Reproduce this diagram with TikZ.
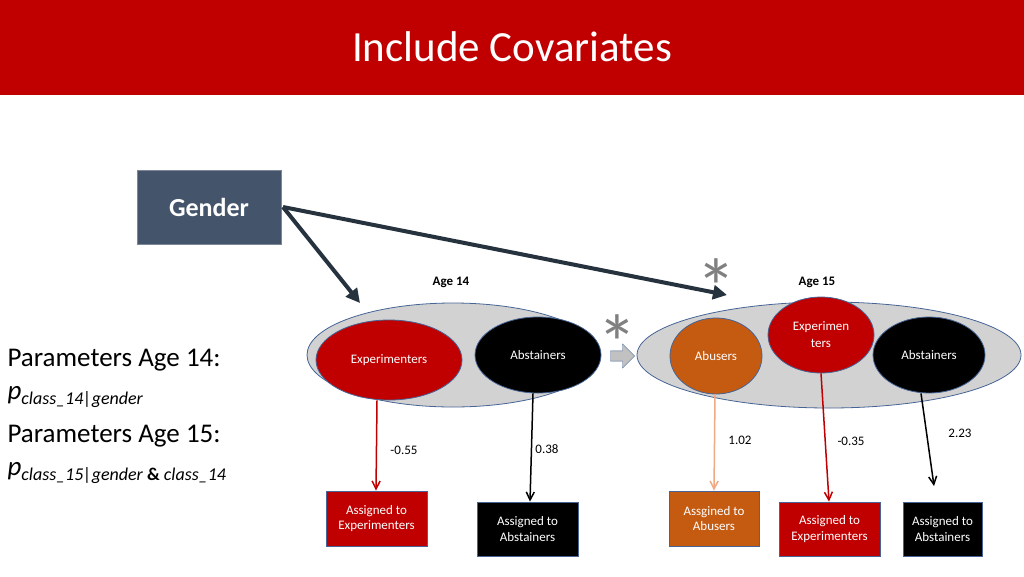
\documentclass[tikz,border=0pt]{standalone}
\usepackage{fontspec}
\setmainfont{Carlito}
\usetikzlibrary{arrows.meta,shapes.arrows,shapes.geometric}
\definecolor{hdr}{RGB}{192,0,0}
\definecolor{gbox}{RGB}{68,84,106}
\definecolor{darr}{RGB}{38,50,62}
\definecolor{cred}{RGB}{192,0,0}
\definecolor{corg}{RGB}{197,90,17}
\definecolor{peach}{RGB}{240,170,130}
\definecolor{lgray}{RGB}{210,210,210}
\definecolor{edgeb}{RGB}{70,100,150}
\tikzset{
  cls/.style={ellipse,draw=edgeb,thick,text=white,font=\fontsize{13}{15}\selectfont,inner sep=0pt,align=center},
  abox/.style={rectangle,draw=edgeb,thick,text=white,font=\fontsize{13}{15.5}\selectfont,align=center,inner sep=0pt},
  con/.style={-{Straight Barb[length=8pt,width=8pt]},line width=1.5pt},
  big/.style={-{Triangle[length=14pt,width=14pt]},line width=4pt,draw=darr},
  val/.style={font=\fontsize{13}{15}\selectfont},
  star/.style={text=gray,font=\fontsize{80}{80}\selectfont},
  lbl/.style={font=\fontsize{27}{30}\selectfont,anchor=west}
}
\begin{document}
\begin{tikzpicture}[x=1pt,y=-1pt]
\useasboundingbox (0,0) rectangle (1024,576);
\fill[hdr] (0,0) rectangle (1024,95);
\node[text=white,font=\fontsize{43}{45}\selectfont] (title) at (512,47) {Include Covariates};
\node[rectangle,draw=gbox!70,fill=gbox,thick,minimum width=144pt,minimum height=74pt,text=white,font=\fontsize{26}{28}\bfseries] (gender) at (209,207) {Gender};
\node[ellipse,draw=edgeb,thick,fill=lgray,minimum width=292pt,minimum height=104pt] (e14) at (453,355) {};
\node[ellipse,draw=edgeb,thick,fill=lgray,minimum width=384pt,minimum height=106pt] (e15) at (829,355) {};
\node[cls,fill=cred,minimum width=146pt,minimum height=80pt] (x14) at (389,360) {Experimenters};
\node[cls,fill=black,minimum width=126pt,minimum height=76pt] (a14) at (538,355) {Abstainers};
\node[cls,fill=corg,minimum width=92pt,minimum height=76pt] (u15) at (716,356) {Abusers};
\node[cls,fill=cred,minimum width=106pt,minimum height=76pt] (x15) at (821,335) {Experimen\\[2pt]ters};
\node[cls,fill=black,minimum width=112pt,minimum height=76pt] (a15) at (929,355) {Abstainers};
\node[single arrow,draw=edgeb,fill=lgray!80!gray,minimum height=24pt,minimum width=24pt,single arrow head extend=3pt,inner sep=2pt] (blk) at (620,356) {};
\node[font=\fontsize{13}{15}\bfseries] (age14) at (451,282) {Age 14};
\node[font=\fontsize{13}{15}\bfseries] (age15) at (817,282) {Age 15};
\node[star] (s1) at (716,287) {*};
\node[star] (s2) at (617,343) {*};
\coordinate (g0) at (283,207);
\coordinate (t14) at (360,303);
\coordinate (t15) at (727,295);
\draw[big] (g0) -- (t14);
\draw[big] (g0) -- (t15);
\node[abox,fill=cred,minimum width=101pt,minimum height=55pt] (b1) at (376.5,518.5) {Assigned to\\Experimenters};
\node[abox,fill=black,minimum width=101pt,minimum height=54pt] (b2) at (527.5,529) {Assigned to\\Abstainers};
\node[abox,fill=corg,minimum width=90pt,minimum height=55pt] (b3) at (714,518.5) {Assgined to\\Abusers};
\node[abox,fill=cred,minimum width=101pt,minimum height=54pt] (b4) at (829.5,529) {Assigned to\\Experimenters};
\node[abox,fill=black,minimum width=79pt,minimum height=54pt] (b5) at (942.5,529) {Assigned to\\Abstainers};
\draw[con,draw=cred] (x14.south -| 377,0) -- (b1.north -| 376,0);
\draw[con,draw=black] (a14.south -| 533,0) -- (b2.north -| 530,0);
\draw[con,draw=peach] (u15.south -| 715,0) -- (b3.north -| 714,0);
\draw[con,draw=cred] (x15.south -| 821,0) -- (b4.north -| 829,0);
\coordinate (end5) at (934,486);
\draw[con,draw=black] (a15.south -| 921,0) -- (end5);
\node[val] (v1) at (404,450) {-0.55};
\node[val] (v2) at (547,449) {0.38};
\node[val] (v3) at (740,440) {1.02};
\node[val] (v4) at (851,441) {-0.35};
\node[val] (v5) at (960,433) {2.23};
\node[lbl] (p1) at (4,360) {Parameters Age 14:};
\node[lbl] (p2) at (4,397) {\textit{p}{\fontsize{18}{20}\selectfont\raisebox{-5pt}{\textit{class\_14|gender}}}};
\node[lbl] (p3) at (4,436) {Parameters Age 15:};
\node[lbl] (p4) at (4,473) {\textit{p}{\fontsize{18}{20}\selectfont\raisebox{-5pt}{\textit{class\_15|gender} \textbf{\&} \textit{class\_14}}}};
\end{tikzpicture}
\end{document}
